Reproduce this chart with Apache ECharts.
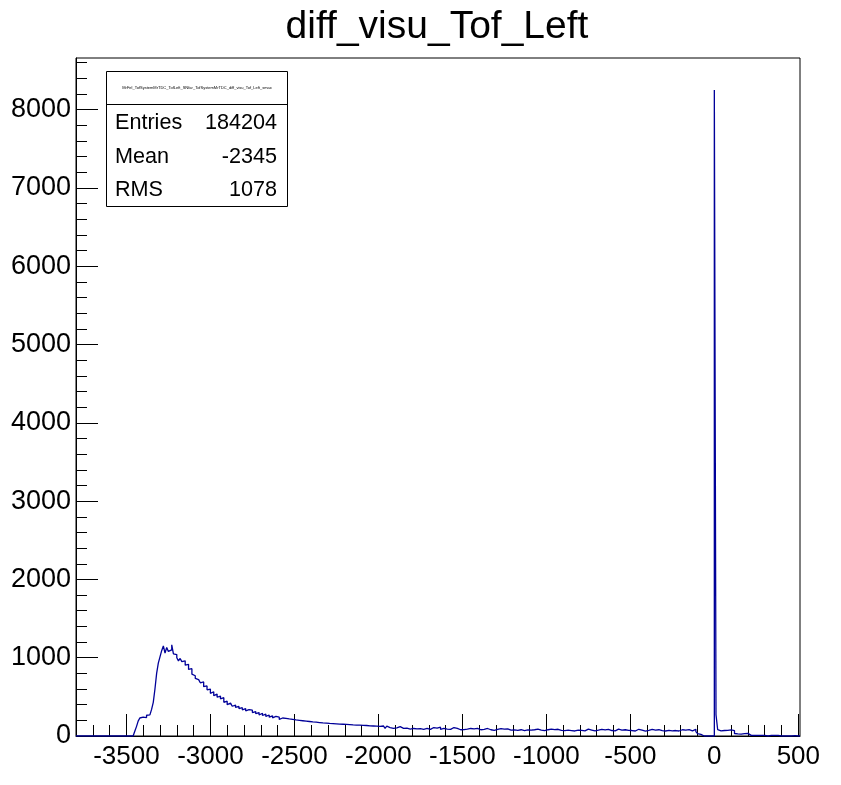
<!DOCTYPE html>
<html><head><meta charset="utf-8">
<script src="https://cdn.jsdelivr.net/npm/echarts@6/dist/echarts.min.js"></script>
<style>html,body{margin:0;padding:0;background:#fff}#c{width:841px;height:785px}</style>
</head><body><div id="c"></div>
<script>
const titleText = 'diff_visu_Tof_Left';
const statsName = 'MrFel_TofSystemMrTDC_TofLeft_SNfar_TofSystemMrTDC_diff_visu_Tof_Left_smax';
const statsLabels = ['Entries', 'Mean', 'RMS'];
const statsValues = ['184204', '-2345', '1078'];

const xMin = -3800, xMax = 510, binWidth = 10;
const yMin = 0, yMax = 8660;
const leftStart = -3800;   // first edge of leftCounts
const rightStart = 0;      // first edge of rightCounts

const xMajorTicks = [-3500, -3000, -2500, -2000, -1500, -1000, -500, 0, 500];
const xMinorTicks = [-3700, -3600, -3500, -3400, -3300, -3200, -3100, -3000, -2900, -2800, -2700, -2600, -2500, -2400, -2300, -2200, -2100, -2000, -1900, -1800, -1700, -1600, -1500, -1400, -1300, -1200, -1100, -1000, -900, -800, -700, -600, -500, -400, -300, -200, -100, 0, 100, 200, 300, 400, 500];
const yMajorTicks = [0, 1000, 2000, 3000, 4000, 5000, 6000, 7000, 8000];
const yMinorTicks = [0, 200, 400, 600, 800, 1000, 1200, 1400, 1600, 1800, 2000, 2200, 2400, 2600, 2800, 3000, 3200, 3400, 3600, 3800, 4000, 4200, 4400, 4600, 4800, 5000, 5200, 5400, 5600, 5800, 6000, 6200, 6400, 6600, 6800, 7000, 7200, 7400, 7600, 7800, 8000, 8200, 8400, 8600];

// bin contents, bins of width 10 starting at -3800 (up to -10)
const leftCounts = [
  0,0,0,0,0,0,0,0,0,0, 0,0,0,0,0,0,0,0,0,0, 0,0,0,0,0,0,0,0,0,0, 0,0,0,0,
  20,60,120,190,230,240,250,235,265,270,
  285,340,430,600,800,930,1010,1090,1150,1060,
  1130,1080,1100,1165,1050,1040,1000,960,990,950,
  960,905,915,850,860,790,770,735,720,740,
  680,690,630,640,590,600,545,565,515,535,
  495,510,475,490,430,445,400,420,395,380,
  395,365,378,350,362,335,350,322,338,315,
  330,300,312,285,300,268,290,262,280,250,
  268,240,258,232,250,225,240,212,230,208,
  225,200,218,195,212,190,205,185,200,182,
  195,176,190,170,185,165,180,162,176,160,
  172,155,168,150,165,148,160,142,158,140,
  155,138,152,135,150,132,148,130,145,128,
  142,125,140,122,138,120,136,118,134,117,
  130,115,128,112,126,110,124,
  105,128,112,98,125,108,120,96,118,104,
  92,120,106,98,115,100,110,88,112,96,
  106,90,114,94,100,86,110,96,104,84,
  98,108,88,100,92,112,86,96,104,88,
  100,84,96,108,86,98,90,80,96,
  82,100,88,78,96,84,92,76,98,86,
  80,94,84,74,96,86,80,92,72,90,
  84,76,94,80,88,70,92,82,76,90,
  78,88,72,94,80,84,70,90,78,86,
  74,92,80,72,88,82,76,94,70,84,
  80,70,88,74,82,66,86,76,72,90,
  68,80,76,84,70,78,64,86,74,80,
  72,84,66,78,88,70,76,82,64,80,
  74,68,86,72,78,66,84,74,70,82,
  66,78,88,70,74,64,80,76,72,84,
  70,82,64,76,86,68,74,80,62,78,
  72,66,84,70,76,62,80,74,68,86,
  64,76,72,82,66,78,70,88,64,74,
  80,68,76,62,82,72,66,78,85,56,
  30,20,15,0,0,0,0,0,0,0
];
// bin contents, bins of width 10 starting at 0 (up to 510)
const rightCounts = [
  8250, 270,
  80,65,75,70,60,72,66,78,62,70,
  32,28,40,25,35,30,27,33,
  10,8,12,9,11,7,10,9,12,8,
  0,0,0,
  8,10,7,9,8,
  0,0,0,0,0,0,0,0,0,
  6,
  0,0,0
];

const pts = [];
leftCounts.forEach((c, i) => pts.push([leftStart + i * binWidth, c]));
rightCounts.forEach((c, i) => pts.push([rightStart + i * binWidth, c]));
pts.push([xMax, rightCounts[rightCounts.length - 1]]);

const FONT = 'Liberation Sans';
const plain = v => String(v);
const chart = echarts.init(document.getElementById('c'), null, {renderer: 'canvas'});
const axisCommon = {type: 'value', splitLine: {show: false}};
chart.setOption({
  animation: false,
  backgroundColor: '#fff',
  grid: {left: 76, right: 41, top: 58, bottom: 49, show: true, borderColor: '#000', borderWidth: 1, backgroundColor: 'transparent', containLabel: false},
  xAxis: [
    Object.assign({}, axisCommon, {
      min: xMin, max: xMax, position: 'bottom',
      axisLine: {show: true, onZero: false, lineStyle: {color: '#000', width: 1}},
      axisTick: {show: true, inside: true, length: 22, customValues: xMajorTicks, lineStyle: {color: '#000', width: 1}},
      axisLabel: {show: true, customValues: xMajorTicks, formatter: plain, fontSize: 26, color: '#000', fontFamily: FONT, margin: 8}
    }),
    Object.assign({}, axisCommon, {
      min: xMin, max: xMax, position: 'bottom',
      axisLine: {show: false, onZero: false},
      axisTick: {show: true, inside: true, length: 11, customValues: xMinorTicks, lineStyle: {color: '#000', width: 1}},
      axisLabel: {show: false}
    })
  ],
  yAxis: [
    Object.assign({}, axisCommon, {
      min: yMin, max: yMax, position: 'left',
      axisLine: {show: true, onZero: false, lineStyle: {color: '#000', width: 1}},
      axisTick: {show: true, inside: true, length: 22, customValues: yMajorTicks, lineStyle: {color: '#000', width: 1}},
      axisLabel: {show: true, customValues: yMajorTicks, formatter: plain, fontSize: 27, color: '#000', fontFamily: FONT, margin: 5}
    }),
    Object.assign({}, axisCommon, {
      min: yMin, max: yMax, position: 'left',
      axisLine: {show: false, onZero: false},
      axisTick: {show: true, inside: true, length: 11, customValues: yMinorTicks, lineStyle: {color: '#000', width: 1}},
      axisLabel: {show: false}
    })
  ],
  series: [{
    type: 'line', xAxisIndex: 0, yAxisIndex: 0,
    data: pts, step: 'end', showSymbol: false, symbol: 'none',
    lineStyle: {color: '#000099', width: 1.3}, clip: true, silent: true
  }],
  graphic: [
    {type: 'text', x: 437, y: 27, style: {text: titleText, font: '39px "' + FONT + '"', fill: '#000', textAlign: 'center', textVerticalAlign: 'middle'}},
    {type: 'rect', shape: {x: 106.5, y: 71.5, width: 181, height: 135}, style: {fill: '#fff', stroke: '#000', lineWidth: 1}, z: 100},
    {type: 'line', shape: {x1: 106.5, y1: 104.5, x2: 287.5, y2: 104.5}, style: {stroke: '#000', lineWidth: 1}, z: 101},
    {type: 'text', x: 197, y: 88, style: {text: statsName, font: '4px "' + FONT + '"', fill: '#000', textAlign: 'center', textVerticalAlign: 'middle'}, z: 101},
    {type: 'text', x: 115, y: 123, style: {text: statsLabels[0], font: '21.6px "' + FONT + '"', fill: '#000', textAlign: 'left', textVerticalAlign: 'middle'}, z: 101},
    {type: 'text', x: 115, y: 157, style: {text: statsLabels[1], font: '21.6px "' + FONT + '"', fill: '#000', textAlign: 'left', textVerticalAlign: 'middle'}, z: 101},
    {type: 'text', x: 115, y: 190, style: {text: statsLabels[2], font: '21.6px "' + FONT + '"', fill: '#000', textAlign: 'left', textVerticalAlign: 'middle'}, z: 101},
    {type: 'text', x: 277, y: 123, style: {text: statsValues[0], font: '21.6px "' + FONT + '"', fill: '#000', textAlign: 'right', textVerticalAlign: 'middle'}, z: 101},
    {type: 'text', x: 277, y: 157, style: {text: statsValues[1], font: '21.6px "' + FONT + '"', fill: '#000', textAlign: 'right', textVerticalAlign: 'middle'}, z: 101},
    {type: 'text', x: 277, y: 190, style: {text: statsValues[2], font: '21.6px "' + FONT + '"', fill: '#000', textAlign: 'right', textVerticalAlign: 'middle'}, z: 101}
  ]
});
</script>
</body></html>
